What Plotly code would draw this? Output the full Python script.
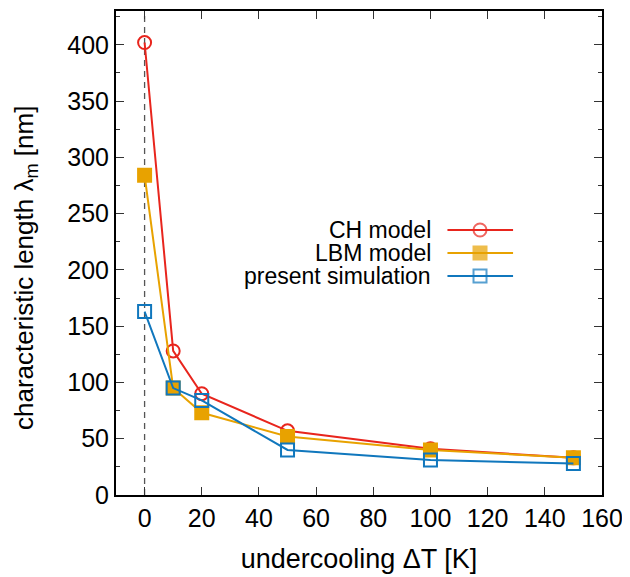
import plotly.graph_objects as go

# undercooling values [K]
undercooling = [0, 10, 20, 50, 100, 150]
# characteristic length [nm]
ch_model = [402, 128, 90, 57, 41, 33]
lbm_model = [284, 95, 73, 52, 40, 33]
present_sim = [163, 95, 84, 40, 31, 28]

series_names = ["CH model", "LBM model", "present simulation"]
series_values = [ch_model, lbm_model, present_sim]
series_colors = ["#e8251d", "#e8a200", "#1077bd"]
series_symbols = ["circle-open", "square", "square-open"]

x_ticks = list(range(0, 161, 20))
y_ticks = list(range(0, 401, 50))

font_family = "Liberation Sans, Arial, sans-serif"

fig = go.Figure()

# dashed line at zero undercooling
fig.add_vline(x=0, line=dict(color="#555555", width=1.3, dash="6px,5px"), layer="below")

for name, vals, col, sym in zip(series_names, series_values, series_colors, series_symbols):
    fig.add_trace(go.Scatter(
        x=undercooling, y=vals, name=name, mode="lines+markers",
        line=dict(color=col, width=2),
        marker=dict(symbol=sym, size=13, color=col, line=dict(color=col, width=2)),
        showlegend=False,
    ))

# gnuplot-style key: text right aligned, sample to the right
key_y = [0.5475, 0.500, 0.4525]
for name, col, sym, ky in zip(series_names, series_colors, series_symbols, key_y):
    fig.add_annotation(x=0.652, y=ky, xref="paper", yref="paper", text=name,
                       showarrow=False, xanchor="right", yanchor="middle",
                       font=dict(size=23, color="black", family=font_family))
    fig.add_trace(go.Scatter(
        x=[0.682, 0.749, 0.817], y=[ky, ky, ky], xaxis="x2", yaxis="y2",
        mode="lines+markers", line=dict(color=col, width=2),
        marker=dict(symbol=sym, size=[0, 13, 0], color=col, line=dict(color=col, width=2)),
        showlegend=False, hoverinfo="skip",
    ))

# y label placed by hand (gnuplot puts it a little below centre)
fig.add_annotation(x=0, y=0.469, xref="paper", yref="paper", xshift=-91,
                   text="characteristic length λ<sub>m</sub> [nm]", textangle=-90,
                   showarrow=False, xanchor="center", yanchor="middle",
                   font=dict(size=26, color="black", family=font_family))

axis_common = dict(
    showline=True, linecolor="black", linewidth=2, mirror="ticks",
    ticks="inside", ticklen=8, tickwidth=1.2, tickcolor="#333333",
    showgrid=False, zeroline=False, automargin=False,
    tickfont=dict(size=25, color="black", family=font_family),
)

# the page body adds 8px, so margins are shifted to keep the frame in place
fig.update_layout(
    width=630, height=577,
    margin=dict(l=108, r=36, t=3, b=90),
    paper_bgcolor="white", plot_bgcolor="white",
    font=dict(family=font_family, color="black"),
    xaxis=dict(range=[-10, 160], tickvals=x_ticks,
               title=dict(text="undercooling ΔT [K]", font=dict(size=27), standoff=18),
               **axis_common),
    yaxis=dict(range=[0, 430], tickvals=y_ticks,
               minor=dict(dtick=25, ticks="inside", ticklen=4, tickcolor="#333333", tickwidth=1.2),
               **axis_common),
    xaxis2=dict(range=[0, 1], overlaying="x", visible=False),
    yaxis2=dict(range=[0, 1], overlaying="y", visible=False),
    showlegend=False,
)

fig.write_html("out.html")
